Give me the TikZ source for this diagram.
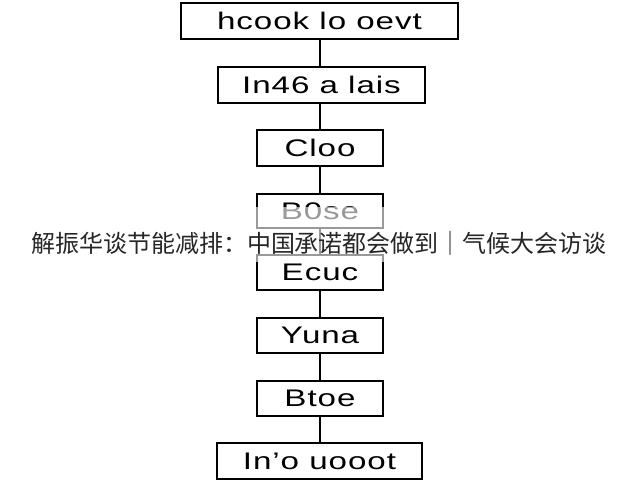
\documentclass[tikz,border=0pt]{standalone}
\usepackage{fontspec}
\setmainfont{Liberation Sans}[FakeStretch=1.38,LetterSpace=4]
\newfontfamily\cjk{Noto Sans CJK SC}
\begin{document}
\begin{tikzpicture}[x=1pt,y=-1pt,
  stepbox/.style={draw=black,line width=1.6pt,fill=white,inner sep=0pt,font=\fontsize{24}{27}\selectfont},
  link/.style={draw=black,line width=1.6pt}]
\useasboundingbox (0,0) rectangle (640,480);
\clip (0,0) rectangle (640,480);
\fill[white] (0,0) rectangle (640,480);
\node[stepbox,minimum width=277pt,minimum height=36pt] (b1) at (319.5,21) {hcook lo oevt};
\node[stepbox,minimum width=207pt,minimum height=36pt] (b2) at (321.5,85) {In46 a lais};
\node[stepbox,minimum width=126pt,minimum height=36pt] (b3) at (320,148) {Cloo};
\node[stepbox,minimum width=126pt,minimum height=34pt] (b4) at (320,211) {B0se};
\node[stepbox,minimum width=126pt,minimum height=35pt] (b5) at (320,272.5) {Ecuc};
\node[stepbox,minimum width=126pt,minimum height=35pt] (b6) at (320,335.5) {Yuna};
\node[stepbox,minimum width=126pt,minimum height=35pt] (b7) at (320,398.5) {Btoe};
\node[stepbox,minimum width=205pt,minimum height=36pt] (b8) at (319.5,461) {In'o uooot};
\draw[link] (b1.south -| b3.north) -- (b3.north |- b2.north);
\draw[link] (b2.south -| b3.north) -- (b3.north);
\draw[link] (b3.south) -- (b4.north);
\draw[link] (b4.south) -- (b5.north);
\draw[link] (b5.south) -- (b6.north);
\draw[link] (b6.south) -- (b7.north);
\draw[link] (b7.south) -- (b8.north -| b7.south);
\fill[white,opacity=0.6] (0,207) rectangle (640,262);
\node[font=\cjk\fontsize{24}{27}\selectfont,text=black!85,inner sep=0pt] (wm) at (319,243) {解振华谈节能减排：中国承诺都会做到｜气候大会访谈};
\end{tikzpicture}
\end{document}
